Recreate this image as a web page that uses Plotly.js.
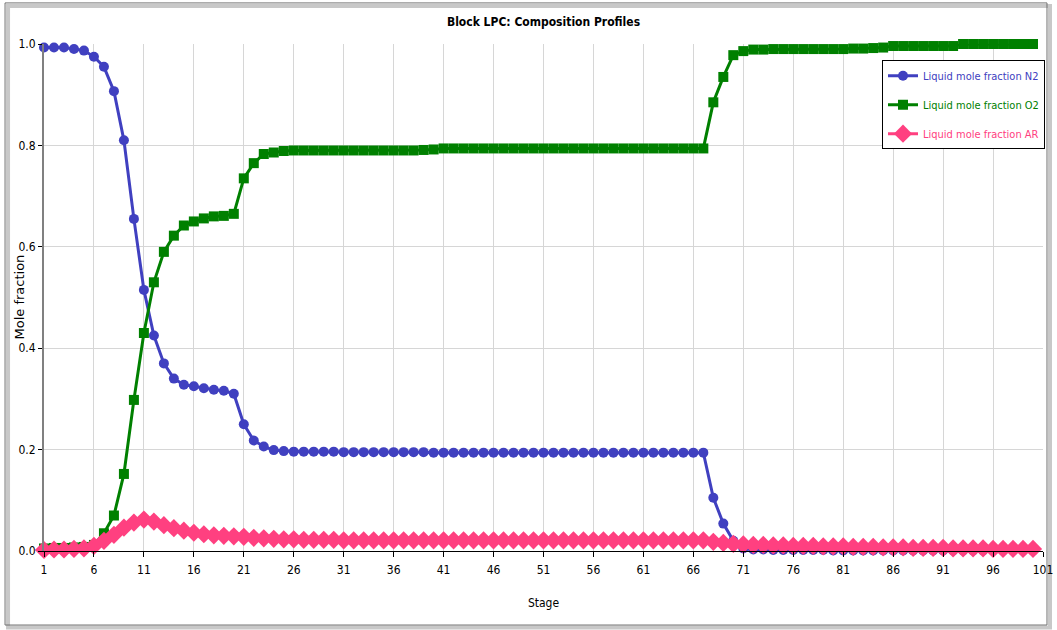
<!DOCTYPE html>
<html>
<head>
<meta charset="utf-8">
<script src="https://cdn.plot.ly/plotly-3.0.1.min.js"></script>
<style>
  html, body { margin: 0; padding: 0; background: #ffffff; }
  #chart { width: 1057px; height: 630px; }
</style>
</head>
<body>
<div id="chart"></div>
<script>
// Stage numbers 1..100
const stages = [
  1,2,3,4,5,6,7,8,9,10,11,12,13,14,15,16,17,18,19,20,
  21,22,23,24,25,26,27,28,29,30,31,32,33,34,35,36,37,38,39,40,
  41,42,43,44,45,46,47,48,49,50,51,52,53,54,55,56,57,58,59,60,
  61,62,63,64,65,66,67,68,69,70,71,72,73,74,75,76,77,78,79,80,
  81,82,83,84,85,86,87,88,89,90,91,92,93,94,95,96,97,98,99,100
];

const n2 = [
  0.993,0.993,0.993,0.990,0.987,0.975,0.955,0.907,0.810,0.655,
  0.515,0.425,0.370,0.340,0.328,0.325,0.321,0.318,0.316,0.310,
  0.250,0.218,0.206,0.199,0.197,0.196,0.196,0.196,0.196,0.196,
  0.195,0.195,0.195,0.195,0.195,0.195,0.195,0.195,0.195,0.194,
  0.194,0.194,0.194,0.194,0.194,0.194,0.194,0.194,0.194,0.194,
  0.194,0.194,0.194,0.194,0.194,0.194,0.194,0.194,0.194,0.194,
  0.194,0.194,0.194,0.194,0.194,0.194,0.194,0.105,0.054,0.020,
  0.005,0.003,0.003,0.002,0.002,0.002,0.002,0.002,0.002,0.001,
  0.001,0.001,0.001,0.001,0.001,0.001,0.001,0.001,0.001,0.001,
  0.001,0.001,0.001,0.001,0.001,0.001,0.001,0.001,0.001,0.001
];

const o2 = [
  0.005,0.006,0.006,0.007,0.008,0.012,0.035,0.070,0.152,0.298,
  0.430,0.530,0.590,0.622,0.642,0.650,0.656,0.660,0.661,0.665,
  0.735,0.765,0.783,0.786,0.789,0.790,0.790,0.790,0.790,0.790,
  0.790,0.790,0.790,0.790,0.790,0.790,0.790,0.790,0.791,0.792,
  0.794,0.794,0.794,0.794,0.794,0.794,0.794,0.794,0.794,0.794,
  0.794,0.794,0.794,0.794,0.794,0.794,0.794,0.794,0.794,0.794,
  0.794,0.794,0.794,0.794,0.794,0.794,0.794,0.885,0.935,0.978,
  0.986,0.989,0.989,0.990,0.990,0.990,0.990,0.990,0.990,0.990,
  0.990,0.991,0.991,0.992,0.993,0.996,0.996,0.996,0.996,0.996,
  0.996,0.996,1.000,1.000,1.000,1.000,1.000,1.000,1.000,1.000
];

const ar = [
  0.002,0.003,0.003,0.004,0.005,0.010,0.020,0.032,0.046,0.056,
  0.062,0.058,0.051,0.045,0.040,0.036,0.033,0.031,0.030,0.029,
  0.028,0.026,0.025,0.024,0.023,0.023,0.022,0.022,0.022,0.022,
  0.021,0.021,0.021,0.021,0.021,0.021,0.021,0.021,0.021,0.021,
  0.021,0.021,0.021,0.021,0.021,0.021,0.021,0.021,0.021,0.021,
  0.021,0.021,0.021,0.021,0.021,0.021,0.021,0.021,0.021,0.021,
  0.021,0.021,0.021,0.021,0.021,0.021,0.021,0.018,0.016,0.014,
  0.013,0.012,0.012,0.011,0.011,0.010,0.010,0.010,0.009,0.009,
  0.009,0.008,0.008,0.008,0.007,0.007,0.007,0.006,0.006,0.006,
  0.006,0.005,0.005,0.005,0.005,0.004,0.004,0.004,0.004,0.004
];

const seriesNames = ["Liquid mole fraction N2", "Liquid mole fraction O2", "Liquid mole fraction AR"];
const seriesColors = ["#4040c0", "#008000", "#ff4080"];
const seriesSymbols = ["circle", "square", "diamond"];
const seriesSizes = [10, 10, 14];
const seriesData = [n2, o2, ar];

const narrow = "DejaVu Sans Condensed, Liberation Sans Narrow, sans-serif";

const traces = seriesData.map((vals, i) => ({
  type: "scatter",
  mode: "lines+markers",
  x: stages,
  y: vals,
  name: '<span style="color:' + seriesColors[i] + '">' + seriesNames[i] + '</span>',
  legendgroup: "g" + i,
  line: { color: seriesColors[i], width: 3 },
  marker: { color: seriesColors[i], symbol: seriesSymbols[i], size: seriesSizes[i] },
  cliponaxis: false
}));

const layout = {
  width: 1057,
  height: 630,
  paper_bgcolor: "#ffffff",
  plot_bgcolor: "#ffffff",
  margin: { l: 44, r: 14, t: 44, b: 79, autoexpand: false },
  title: {
    text: "<b>Block LPC: Composition Profiles</b>",
    font: { family: narrow, size: 12, color: "#000000" },
    x: 0.5, xref: "paper", xanchor: "center",
    y: 0.966, yref: "container", yanchor: "middle"
  },
  xaxis: {
    range: [1, 101],
    tick0: 1, dtick: 5,
    showgrid: true, gridcolor: "#d6d6d6", gridwidth: 1,
    zeroline: false,
    showline: true, linecolor: "#000000", linewidth: 1,
    ticks: "outside", ticklen: 5, tickcolor: "#000000",
    ticklabelstandoff: 3,
    tickfont: { family: narrow, size: 12, color: "#000000" },
    automargin: false,
    title: { text: "Stage", font: { family: narrow, size: 12, color: "#000000" }, standoff: 22 }
  },
  yaxis: {
    range: [0, 1.0],
    tick0: 0, dtick: 0.2,
    tickformat: ".1f",
    showgrid: true, gridcolor: "#d6d6d6", gridwidth: 1,
    zeroline: false,
    showline: true, linecolor: "#808080", linewidth: 2,
    ticks: "outside", ticklen: 4, tickcolor: "#000000",
    tickfont: { family: narrow, size: 12, color: "#000000" },
    automargin: false
  },
  legend: {
    x: 1.002, y: 0.968, xanchor: "right", yanchor: "top",
    bgcolor: "#ffffff", bordercolor: "#000000", borderwidth: 1,
    font: { family: narrow, size: 11 },
    traceorder: "grouped", tracegroupgap: 10,
    itemwidth: 30
  },
  showlegend: true,
  annotations: [
    { text: "Mole fraction", xref: "paper", yref: "paper",
      x: -0.025, y: 0.5, xanchor: "center", yanchor: "middle",
      textangle: -90, showarrow: false,
      font: { family: "DejaVu Sans, sans-serif", size: 13, color: "#000000" } }
  ],
  shapes: [
    { type: "rect", xref: "paper", yref: "paper", layer: "below",
      x0: -0.036, x1: 1.007, y0: -0.151, y1: 1.075,
      line: { color: "#c8c8c8", width: 4 } },
    { type: "rect", xref: "paper", yref: "paper", layer: "below",
      x0: -0.039, x1: 1.004, y0: -0.146, y1: 1.081,
      line: { color: "#707070", width: 1 }, fillcolor: "rgba(0,0,0,0)" }
  ]
};

Plotly.newPlot("chart", traces, layout, { displayModeBar: false, staticPlot: true });
</script>
</body>
</html>
